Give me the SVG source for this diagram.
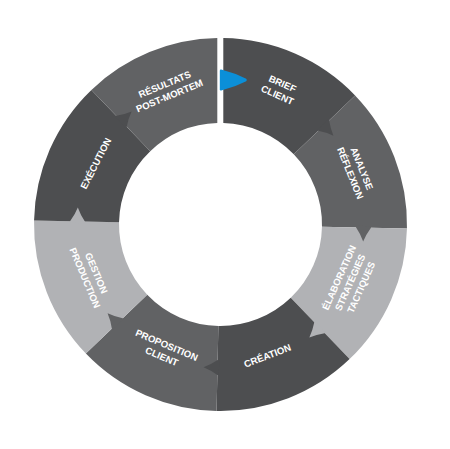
<svg xmlns="http://www.w3.org/2000/svg" xmlns:xlink="http://www.w3.org/1999/xlink" width="450" height="449" viewBox="0 0 450 449">
<style>
.dark{fill:#4d4e50}
.mid{fill:#616264}
.light{fill:#b1b2b5}
.blue{fill:#0b8fd8}
.lbl{font-family:"Liberation Sans",Arial,sans-serif;font-weight:700;font-size:9.6px;fill:#ffffff;text-anchor:middle}
</style>
<defs>
<path id="ptr" d="M-1.5,-7.5 L0,-7.5 Q7,-2.6 14,0 Q7,2.6 0,7.5 L-1.5,7.5 Z"/>
</defs>
<rect width="450" height="449" fill="#ffffff"/>
<g id="brief-client">
<path class="dark" d="M223.3,38.02 A186.5,186.5 0 0 1 355.1,95.4 L293.76,154.25 A101.5,101.5 0 0 0 223.3,123.04 Z"/>
<text class="lbl" transform="translate(280,89.2) rotate(24)"><tspan x="0" y="-2.7">BRIEF</tspan><tspan x="0" y="9.7">CLIENT</tspan></text>
</g>
<g id="analyse-reflexion">
<path class="mid" d="M355.1,95.4 A186.5,186.5 0 0 1 406.96,228.41 L321.98,226.63 A101.5,101.5 0 0 0 293.76,154.25 Z"/>
<text class="lbl" transform="translate(356.2,170.8) rotate(68)"><tspan x="0" y="-2.7">ANALYSE</tspan><tspan x="0" y="9.7">RÉFLEXION</tspan></text>
</g>
<g id="elaboration">
<path class="light" d="M406.96,228.41 A186.5,186.5 0 0 1 349.58,359.12 L290.75,297.76 A101.5,101.5 0 0 0 321.98,226.63 Z"/>
<text class="lbl" transform="translate(350,282.4) rotate(-66)"><tspan x="0" y="-8.6">ÉLABORATION</tspan><tspan x="0" y="3.5">STRATÉGIES</tspan><tspan x="0" y="15.6">TACTIQUES</tspan></text>
</g>
<g id="creation">
<path class="dark" d="M349.58,359.12 A186.5,186.5 0 0 1 216.59,410.96 L218.37,325.98 A101.5,101.5 0 0 0 290.75,297.76 Z"/>
<text class="lbl" transform="translate(267.3,355.7) rotate(-21)"><tspan x="0" y="3.5">CRÉATION</tspan></text>
</g>
<g id="proposition-client">
<path class="mid" d="M216.59,410.96 A186.5,186.5 0 0 1 85.88,353.58 L147.24,294.75 A101.5,101.5 0 0 0 218.37,325.98 Z"/>
<text class="lbl" transform="translate(164.3,350.7) rotate(23)"><tspan x="0" y="-2.7">PROPOSITION</tspan><tspan x="0" y="9.7">CLIENT</tspan></text>
</g>
<g id="gestion-production">
<path class="light" d="M85.88,353.58 A186.5,186.5 0 0 1 34.04,220.59 L119.02,222.37 A101.5,101.5 0 0 0 147.24,294.75 Z"/>
<text class="lbl" transform="translate(90.8,275.5) rotate(67)"><tspan x="0" y="-2.7">GESTION</tspan><tspan x="0" y="9.7">PRODUCTION</tspan></text>
</g>
<g id="execution">
<path class="dark" d="M34.04,220.59 A186.5,186.5 0 0 1 91.42,89.88 L150.25,151.24 A101.5,101.5 0 0 0 119.02,222.37 Z"/>
<text class="lbl" transform="translate(95.7,163.3) rotate(-63)"><tspan x="0" y="3.5">EXÉCUTION</tspan></text>
</g>
<g id="resultats-post-mortem">
<path class="mid" d="M91.42,89.88 A186.5,186.5 0 0 1 217.3,38.03 L217.3,123.05 A101.5,101.5 0 0 0 150.25,151.24 Z"/>
<text class="lbl" transform="translate(167,90) rotate(-22.5)"><tspan x="0" y="-2.7">RÉSULTATS</tspan><tspan x="0" y="9.7">POST-MORTEM</tspan></text>
</g>
<g id="connectors">
<use xlink:href="#ptr" class="dark" transform="translate(323.72,125.53) rotate(46.2)"/>
<use xlink:href="#ptr" class="mid" transform="translate(363.47,227.49) rotate(91.2)"/>
<use xlink:href="#ptr" class="light" transform="translate(319.47,327.72) rotate(136.2)"/>
<use xlink:href="#ptr" class="dark" transform="translate(217.51,367.47) rotate(181.2)"/>
<use xlink:href="#ptr" class="mid" transform="translate(117.28,323.47) rotate(226.2)"/>
<use xlink:href="#ptr" class="light" transform="translate(77.53,221.51) rotate(271.2)"/>
<use xlink:href="#ptr" class="dark" transform="translate(121.53,121.28) rotate(316.2)"/>
<path class="blue" d="M221.2,69.5 Q235,73 246.2,78.8 Q247.6,80 246.2,81.2 Q235,87 221.2,90.5 Q219.8,90.8 219.8,89.2 L219.8,70.8 Q219.8,69.2 221.2,69.5 Z"/>
</g>
</svg>
